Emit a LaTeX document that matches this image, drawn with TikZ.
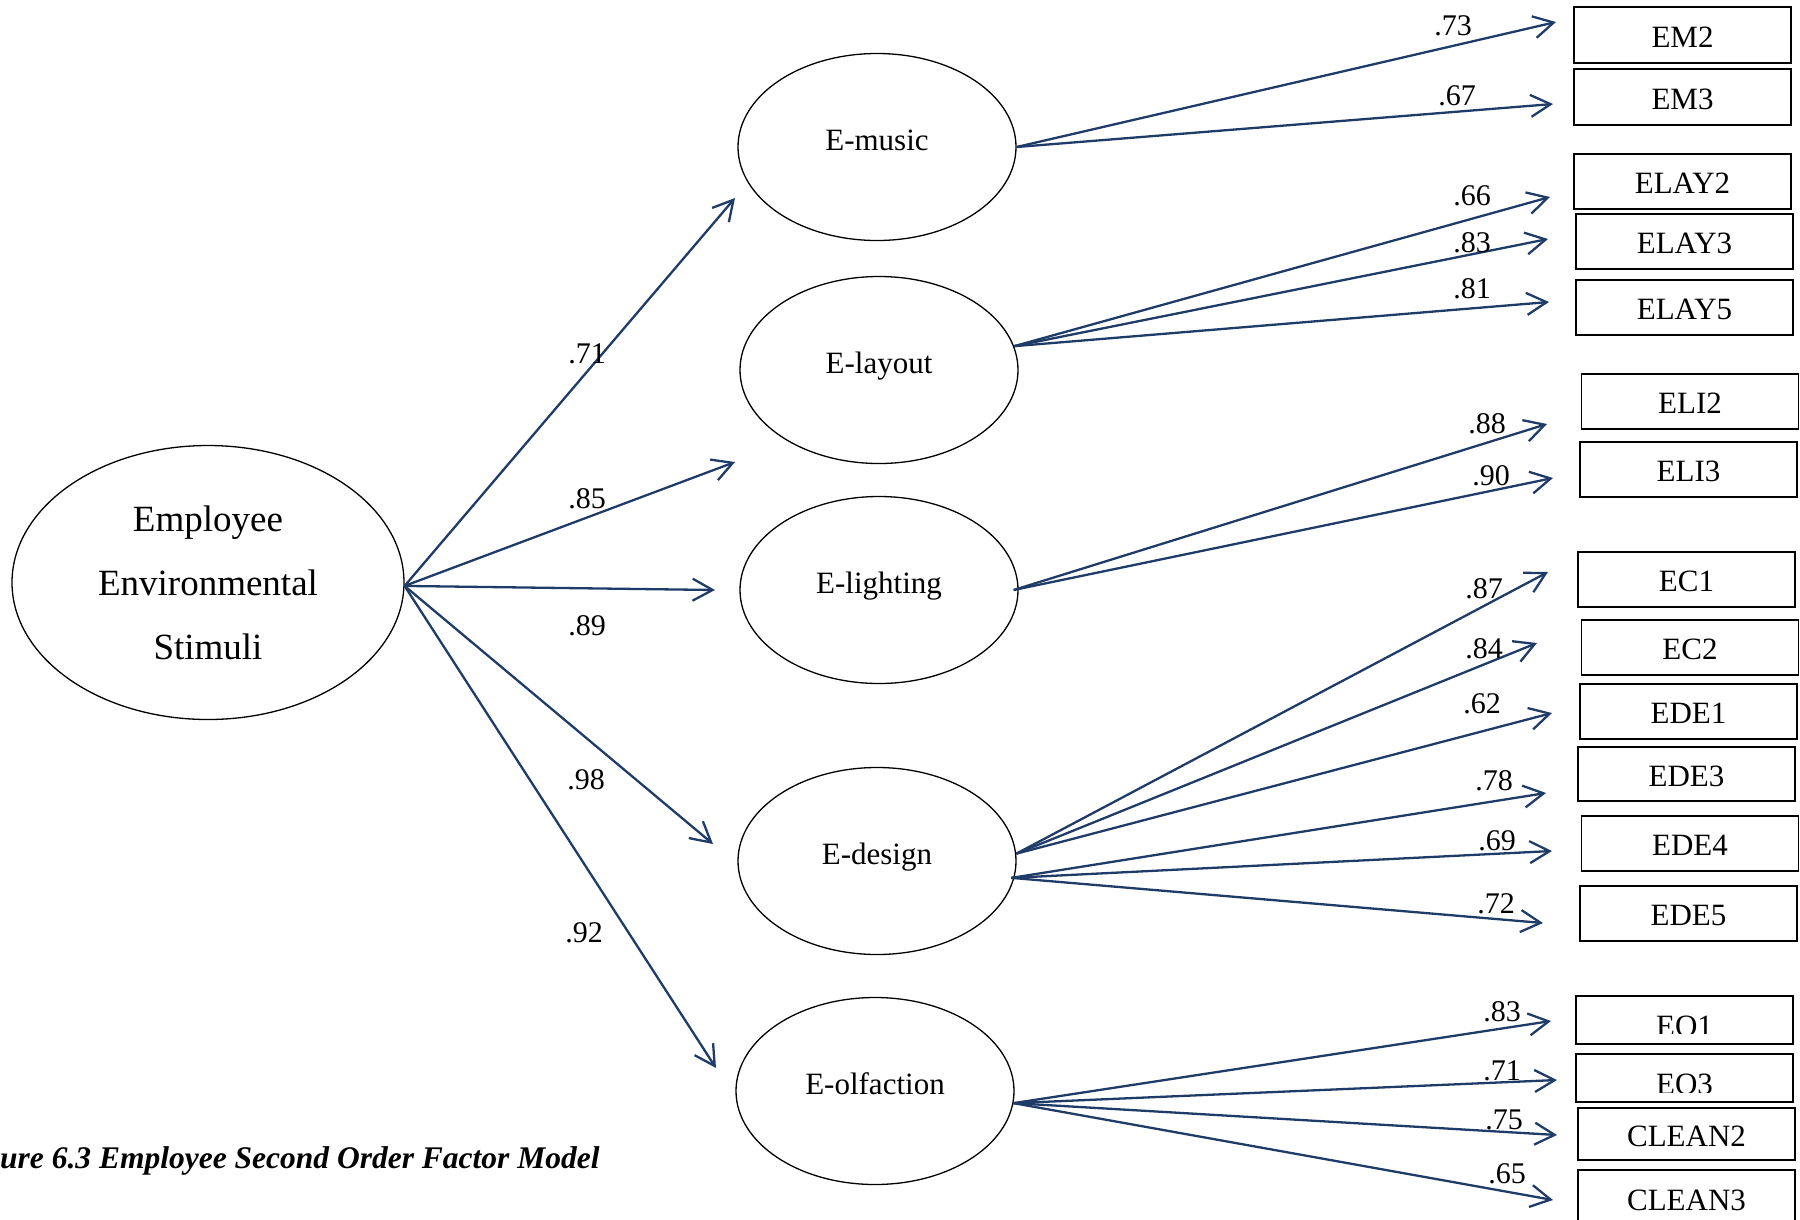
\documentclass[tikz,border=0pt]{standalone}
\usepackage{fontspec}
\setmainfont{Liberation Serif}
\usetikzlibrary{arrows.meta,shapes.geometric}
\definecolor{pathblue}{HTML}{1F3C68}
\begin{document}
\begin{tikzpicture}[x=1pt,y=-1pt,
  second/.style={draw=black, line width=1.3pt, ellipse, inner sep=0pt,
    minimum width=392pt, minimum height=274pt, align=center,
    font=\fontsize{37}{64}\selectfont},
  latent/.style={draw=black, line width=1.3pt, ellipse, inner sep=0pt,
    minimum width=278pt, minimum height=187pt,
    font=\fontsize{31}{37}\selectfont, text height=21.7pt, text depth=15.5pt},
  indicator/.style={draw=black, line width=1.7pt, rectangle, inner sep=0pt,
    minimum width=217pt, minimum height=55pt,
    font=\fontsize{31}{37}\selectfont, text height=24.8pt, text depth=0pt},
  indtext/.style={anchor=base, inner sep=0pt, font=\fontsize{31}{37}\selectfont},
  loading/.style={draw=pathblue, line width=2.3pt,
    -{Straight Barb[length=20pt,width=22pt]}},
  coef/.style={anchor=base, inner sep=0pt, font=\fontsize{30}{36}\selectfont}]
\useasboundingbox (0,0) rectangle (1800,1219);

% second-order factor
\node[second] (EES) at (208,582.5) {Employee\\Environmental\\Stimuli};

% first-order factors
\node[latent] (music)     at (877,147)  {E-music};
\node[latent] (layout)    at (879,370)  {E-layout};
\node[latent] (lighting)  at (879,590)  {E-lighting};
\node[latent] (design)    at (877,861)  {E-design};
\node[latent] (olfaction) at (875,1091) {E-olfaction};

% observed indicators
\node[indicator, minimum height=56pt] (EM2)   at (1682.5,35)   {EM2};
\node[indicator, minimum height=56pt] (EM3)   at (1682.5,97)   {EM3};
\node[indicator] (ELAY2)  at (1682.5,181.5) {ELAY2};
\node[indicator] (ELAY3)  at (1684.5,241.5) {ELAY3};
\node[indicator] (ELAY5)  at (1684.5,307.5) {ELAY5};
\node[indicator] (ELI2)   at (1690,401.5)   {ELI2};
\node[indicator] (ELI3)   at (1688.5,469.5) {ELI3};
\node[indicator] (EC1)    at (1686.5,579.5) {EC1};
\node[indicator] (EC2)    at (1690,647.5)   {EC2};
\node[indicator] (EDE1)   at (1688.5,711.5) {EDE1};
\node[indicator, minimum height=54pt] (EDE3) at (1686.5,774) {EDE3};
\node[indicator] (EDE4)   at (1690,843.5)   {EDE4};
\node[indicator] (EDE5)   at (1688.5,913.5) {EDE5};
\node[indicator, minimum height=48pt] (EO1) at (1684.5,1020) {};
\node[indicator, minimum height=48pt] (EO3) at (1684.5,1078) {};
\node[indicator, minimum height=52pt] (CLEAN2) at (1686.5,1134) {CLEAN2};
\node[indicator, minimum height=56pt] (CLEAN3) at (1686.5,1198) {CLEAN3};

% the labels of EO1 and EO3 are cut off just above their baselines
\begin{scope}
  \clip (1576,996) rectangle (1793,1033);
  \node[indtext] (EO1t) at (1684.5,1036) {EO1};
\end{scope}
\begin{scope}
  \clip (1576,1054) rectangle (1793,1092);
  \node[indtext] (EO3t) at (1684.5,1094) {EO3};
\end{scope}

% free ends of the arrows
\coordinate (tMu) at (735,198);
\coordinate (tLa) at (735,462);
\coordinate (tLi) at (715,590);
\coordinate (tDe) at (713,844);
\coordinate (tOl) at (716,1068);
\coordinate (tEM2) at (1556,22);
\coordinate (tEM3) at (1553,104);
\coordinate (tELAY2) at (1550,197);
\coordinate (tELAY3) at (1548,239);
\coordinate (tELAY5) at (1549,302);
\coordinate (tELI2) at (1547,424);
\coordinate (tELI3) at (1553,478);
\coordinate (tEC1) at (1548,572);
\coordinate (tEC2) at (1537,643);
\coordinate (tEDE1) at (1552,713);
\coordinate (tEDE3) at (1546,793);
\coordinate (tEDE4) at (1552,851);
\coordinate (tEDE5) at (1543,923);
\coordinate (tEO1) at (1551,1021);
\coordinate (tEO3) at (1557,1080);
\coordinate (tCL2) at (1557,1135);
\coordinate (tCL3) at (1553,1200);

% second-order loadings
\draw[loading] (EES.-1.5) -- (tMu);
\draw[loading] (EES.-1.5) -- (tLa);
\draw[loading] (EES.-1.5) -- (tLi);
\draw[loading] (EES.-1.5) -- (tDe);
\draw[loading] (EES.-1.5) -- (tOl);

% first-order loadings
\draw[loading] (music.east) -- (tEM2);
\draw[loading] (music.east) -- (tEM3);
\draw[loading] (layout.10) -- (tELAY2);
\draw[loading] (layout.10) -- (tELAY3);
\draw[loading] (layout.10) -- (tELAY5);
\draw[loading] ([xshift=-5pt]lighting.east) -- (tELI2);
\draw[loading] ([xshift=-5pt]lighting.east) -- (tELI3);
\draw[loading] (design.3) -- (tEC1);
\draw[loading] (design.3) -- (tEC2);
\draw[loading] (design.3) -- (tEDE1);
\draw[loading] ([xshift=-3pt]design.-7) -- (tEDE3);
\draw[loading] ([xshift=-3pt]design.-7) -- (tEDE4);
\draw[loading] ([xshift=-3pt]design.-7) -- (tEDE5);
\draw[loading] (olfaction.-5) -- (tEO1);
\draw[loading] (olfaction.-5) -- (tEO3);
\draw[loading] (olfaction.-5) -- (tCL2);
\draw[loading] (olfaction.-5) -- (tCL3);

% standardized coefficients
\node[coef] (k1) at (587,363) {.71};
\node[coef] (k2) at (587,508) {.85};
\node[coef] (k3) at (587,635) {.89};
\node[coef] (k4) at (586,789) {.98};
\node[coef] (k5) at (584,942) {.92};
\node[coef] (m1) at (1453,35)  {.73};
\node[coef] (m2) at (1457,105) {.67};
\node[coef] (l1) at (1472,205) {.66};
\node[coef] (l2) at (1472,252) {.83};
\node[coef] (l3) at (1472,298) {.81};
\node[coef] (g1) at (1487,433) {.88};
\node[coef] (g2) at (1491,485) {.90};
\node[coef] (d1) at (1484,598) {.87};
\node[coef] (d2) at (1484,658) {.84};
\node[coef] (d3) at (1482,713) {.62};
\node[coef] (d4) at (1494,790) {.78};
\node[coef] (d5) at (1497,850) {.69};
\node[coef] (d6) at (1496,913) {.72};
\node[coef] (o1) at (1502,1021) {.83};
\node[coef] (o2) at (1502,1080) {.71};
\node[coef] (o3) at (1504,1129) {.75};
\node[coef] (o4) at (1507,1183) {.65};

% caption
\node[anchor=base west, inner sep=0pt,
  font=\fontsize{31.5}{38}\selectfont\bfseries\itshape] (caption) at (0,1168)
  {ure 6.3 Employee Second Order Factor Model};
\end{tikzpicture}
\end{document}
